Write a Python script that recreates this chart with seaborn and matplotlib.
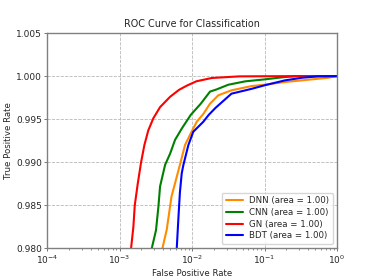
import numpy as np
import pandas as pd
import matplotlib
matplotlib.use('Agg')
import matplotlib.pyplot as plt
import seaborn as sns

# ROC points (fpr, tpr)
dnn_fpr = [3.8e-3, 3.9e-3, 4.48e-3, 5.2e-3, 5.8e-3, 6.8e-3, 8.0e-3, 9.4e-3, 1.16e-2,
           1.43e-2, 1.77e-2, 2.3e-2, 3.5e-2, 6.7e-2, 0.10, 0.19, 0.45, 0.76, 1.0]
dnn_tpr = [0.978, 0.980, 0.9822, 0.9860, 0.9875, 0.9897, 0.9920, 0.9932, 0.9947,
           0.9956, 0.9968, 0.99777, 0.99835, 0.99885, 0.9990, 0.99931, 0.99962,
           0.99981, 1.0]

cnn_fpr = [2.7e-3, 2.78e-3, 3.18e-3, 3.43e-3, 3.62e-3, 4.25e-3, 4.98e-3, 5.83e-3,
           7.2e-3, 9.6e-3, 1.32e-2, 1.77e-2, 2.19e-2, 3.17e-2, 5.4e-2, 0.10, 0.19,
           0.29, 1.0]
cnn_tpr = [0.978, 0.980, 0.9821, 0.9848, 0.9872, 0.9897, 0.9910, 0.9926,
           0.9939, 0.9955, 0.9968, 0.9982, 0.99846, 0.9990, 0.99939, 0.99962, 0.99989,
           1.0, 1.0]

gn_fpr = [1.40e-3, 1.44e-3, 1.55e-3, 1.62e-3, 1.78e-3, 1.98e-3, 2.2e-3, 2.49e-3,
          2.92e-3, 3.62e-3, 4.98e-3, 6.6e-3, 8.5e-3, 1.15e-2, 1.87e-2, 4.5e-2, 0.3, 1.0]
gn_tpr = [0.978, 0.980, 0.9825, 0.985, 0.9875, 0.990, 0.9920, 0.9937,
          0.9951, 0.9964, 0.9976, 0.9984, 0.9989, 0.9994, 0.99978, 0.99997, 1.0, 1.0]

bdt_fpr = [6.1e-3, 6.15e-3, 6.5e-3, 6.8e-3, 7.2e-3, 7.6e-3, 8.9e-3, 1.04e-2, 1.43e-2,
           1.7e-2, 2.1e-2, 3.5e-2, 6.7e-2, 0.10, 0.19, 0.33, 0.55, 1.0]
bdt_tpr = [0.978, 0.980, 0.9837, 0.9865, 0.9887, 0.9897, 0.9920, 0.99354, 0.9947,
           0.9955, 0.9963, 0.99796, 0.99853, 0.99893, 0.9995, 0.99981, 0.99997, 1.0]

models = ['DNN', 'CNN', 'GN', 'BDT']
aucs = [1.00, 1.00, 1.00, 1.00]
colors = ['darkorange', 'green', 'red', 'blue']

curves = {'DNN': (dnn_fpr, dnn_tpr), 'CNN': (cnn_fpr, cnn_tpr),
          'GN': (gn_fpr, gn_tpr), 'BDT': (bdt_fpr, bdt_tpr)}

sns.set_theme(style="white")
plt.rcParams['font.family'] = ['DejaVu Sans']

fig = plt.figure(figsize=(3.74, 2.8), dpi=100)
ax = fig.add_axes([0.126, 0.113, 0.775, 0.769])

for name, auc, col in zip(models, aucs, colors):
    fpr, tpr = curves[name]
    df = pd.DataFrame({'fpr': fpr, 'tpr': tpr})
    sns.lineplot(data=df, x='fpr', y='tpr', ax=ax, color=col, lw=1.5,
                 sort=False, estimator=None,
                 label=f'{name} (area = {auc:.2f})')

ax.set_xscale('log')
ax.set_xlim(1e-4, 1)
ax.set_ylim(0.98, 1.005)
ax.set_yticks([0.980, 0.985, 0.990, 0.995, 1.000, 1.005])
ax.set_yticklabels(['0.980', '0.985', '0.990', '0.995', '1.000', '1.005'])
ax.grid(True, which='major', linestyle='--', color='#b8b8b8', lw=0.6)

for sp in ax.spines.values():
    sp.set_color('#808080')
    sp.set_linewidth(1.0)
ax.tick_params(which='major', length=2, width=0.6, color='#606060',
               labelsize=6.5, pad=1.5, bottom=True, left=True)
ax.tick_params(which='minor', length=1.2, width=0.5, color='#606060', bottom=True)

ax.set_title('ROC Curve for Classification', fontsize=6.9, pad=4)
ax.set_xlabel('False Positive Rate', fontsize=6.2, labelpad=2.5)
ax.set_ylabel('True Positive Rate', fontsize=6.2, labelpad=2.5)

leg = ax.legend(loc='lower right', fontsize=6.2, frameon=True, handlelength=2.0,
                borderpad=0.45, labelspacing=0.3, handletextpad=0.7)
leg.get_frame().set_edgecolor('#cccccc')

fig.savefig('out.png', dpi=100)
